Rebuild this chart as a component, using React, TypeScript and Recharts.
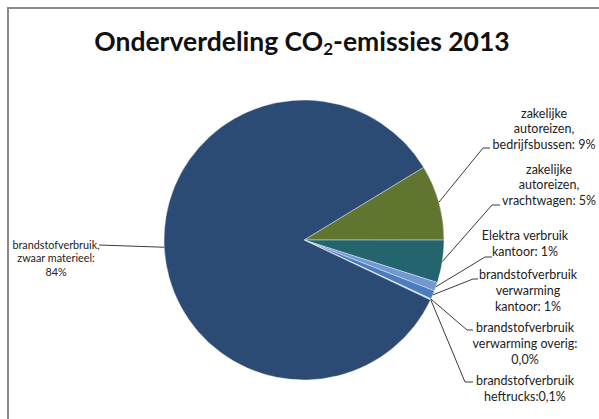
import React from 'react';
import { PieChart, Pie, Cell } from 'recharts';

// clockwise from the top edge of the green slice
const categories = [
  'zakelijke autoreizen, bedrijfsbussen',
  'zakelijke autoreizen, vrachtwagen',
  'Elektra verbruik kantoor',
  'brandstofverbruik verwarming kantoor',
  'brandstofverbruik verwarming overig',
  'brandstofverbruik heftrucks',
  'brandstofverbruik, zwaar materieel',
];
const shares = [8.7, 4.9, 1.0, 1.0, 0.03, 0.1, 84.2];
const labelLines = [
  ['zakelijke', 'autoreizen,', 'bedrijfsbussen: 9%'],
  ['zakelijke', 'autoreizen,', 'vrachtwagen: 5%'],
  ['Elektra verbruik', 'kantoor: 1%'],
  ['brandstofverbruik', 'verwarming', 'kantoor: 1%'],
  ['brandstofverbruik', 'verwarming overig:', '0,0%'],
  ['brandstofverbruik', 'heftrucks:0,1%'],
  ['brandstofverbruik,', 'zwaar materieel:', '84%'],
];

const COLORS = ['#5f7530', '#23646f', '#7298cf', '#4a7dbe', '#2f5b8f', '#9ab8df', '#2c4b74'];

// label placement relative to the pie centre (Excel dragged labels)
const LABEL_POS = [
  { elbow: [179, -92], end: [186, -92], tx: 240, ty: -127, gap: 15.5, size: 12.5 },
  { elbow: [188, -35], end: [196, -35], tx: 245, ty: -71, gap: 15.5, size: 12.5 },
  { elbow: [181, 17], end: [188, 17], tx: 221, ty: -5, gap: 16, size: 12.5 },
  { elbow: [169, 39], end: [174, 39], tx: 224, ty: 34, gap: 16, size: 12.5 },
  { elbow: [163, 90], end: [169, 90], tx: 221, ty: 87, gap: 16, size: 12.5 },
  { elbow: [161, 142], end: [169, 142], tx: 221, ty: 140, gap: 16, size: 12.5 },
  { elbow: [-205, 5], end: [-205, 5], tx: -248, ty: 4, gap: 13.5, size: 10.8 },
];

const data = categories.map((name, i) => ({ name, value: shares[i] }));

const RAD = Math.PI / 180;

function renderLabel(props: any) {
  const { cx, cy, midAngle, outerRadius, index } = props;
  const pos = LABEL_POS[index];
  const sx = cx + outerRadius * Math.cos(-midAngle * RAD);
  const sy = cy + outerRadius * Math.sin(-midAngle * RAD);
  const pts = `${sx},${sy} ${cx + pos.elbow[0]},${cy + pos.elbow[1]} ${cx + pos.end[0]},${cy + pos.end[1]}`;
  return (
    <g key={`lbl-${index}`}>
      <polyline points={pts} fill="none" stroke="#3a3a3a" strokeWidth={1} />
      <text
        x={cx + pos.tx}
        y={cy + pos.ty}
        textAnchor="middle"
        fontFamily="Lato, sans-serif"
        fontSize={pos.size}
        fill="#222"
      >
        {labelLines[index].map((line, j) => (
          <tspan key={j} x={cx + pos.tx} y={cy + pos.ty + j * pos.gap} dominantBaseline="central">
            {line}
          </tspan>
        ))}
      </text>
    </g>
  );
}

export default function App() {
  return (
    <div style={{ position: 'absolute', left: 0, top: 0, width: 599, height: 419, background: '#fff', overflow: 'hidden' }}>
      <div
        style={{
          position: 'absolute',
          left: 7,
          top: 7,
          width: 620,
          height: 440,
          borderLeft: '2px solid #8a8a8a',
          borderTop: '2px solid #8a8a8a',
        }}
      />
      <div
        style={{
          position: 'absolute',
          left: 0,
          top: 24,
          width: 604,
          textAlign: 'center',
          fontFamily: 'Lato, sans-serif',
          fontWeight: 700,
          fontSize: 26.5,
          lineHeight: '34px',
          color: '#111',
        }}
      >
        Onderverdeling CO<sub style={{ fontSize: 17, verticalAlign: -4 }}>2</sub>-emissies 2013
      </div>
      <div style={{ position: 'absolute', left: 0, top: 0 }}>
        <PieChart width={599} height={419} margin={{ top: 0, right: 0, bottom: 0, left: 0 }}>
          <Pie
            data={data}
            dataKey="value"
            nameKey="name"
            cx={304}
            cy={240}
            outerRadius={140}
            startAngle={31.3}
            endAngle={-328.7}
            stroke="#ffffff"
            strokeWidth={0.4}
            label={renderLabel}
            labelLine={false}
            isAnimationActive={false}
          >
            {data.map((d, i) => (
              <Cell key={d.name} fill={COLORS[i]} />
            ))}
          </Pie>
        </PieChart>
      </div>
    </div>
  );
}
